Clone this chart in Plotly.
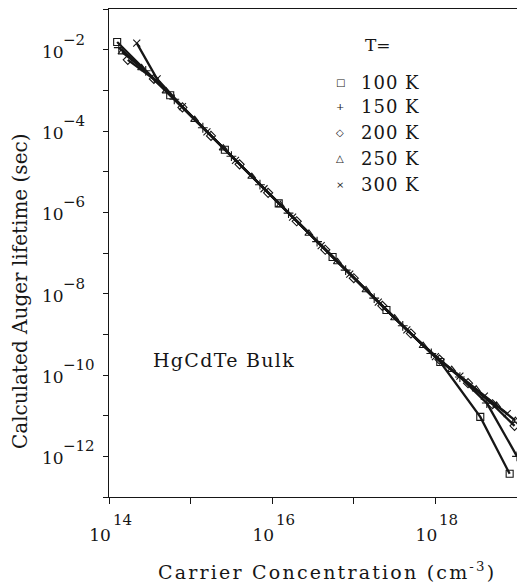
import plotly.graph_objects as go

# ---- data (log10 values) ----
# x: log10 carrier concentration (cm^-3), y: log10 Auger lifetime (s)
log_n_100K = [14.10, 14.75, 15.42, 16.08, 16.74, 17.40, 18.06, 18.55, 18.91]
log_tau_100K = [-1.81, -3.12, -4.46, -5.78, -7.10, -8.40, -9.68, -11.03, -12.43]

log_n_150K = [14.12, 14.45, 14.80, 15.15, 15.50, 15.85, 16.20, 16.55, 16.90, 17.25, 17.60, 17.95, 18.30, 18.63, 19.00]
log_tau_150K = [-1.95, -2.52, -3.22, -3.92, -4.62, -5.32, -6.02, -6.72, -7.42, -8.11, -8.79, -9.47, -10.05, -10.69, -12.00]

log_n_200K = [14.23, 14.55, 14.90, 15.25, 15.60, 15.95, 16.30, 16.65, 17.00, 17.35, 17.70, 18.05, 18.40, 18.70, 18.97]
log_tau_200K = [-2.25, -2.72, -3.42, -4.12, -4.82, -5.52, -6.22, -6.92, -7.62, -8.30, -8.98, -9.62, -10.20, -10.72, -11.25]

log_n_250K = [14.16, 14.40, 14.70, 15.05, 15.40, 15.75, 16.10, 16.45, 16.80, 17.15, 17.50, 17.85, 18.20, 18.50, 18.75, 18.98]
log_tau_250K = [-2.06, -2.45, -3.02, -3.72, -4.42, -5.12, -5.82, -6.52, -7.22, -7.91, -8.60, -9.28, -9.87, -10.35, -10.75, -11.12]

log_n_300K = [14.34, 14.59, 14.90, 15.20, 15.55, 15.90, 16.25, 16.60, 16.95, 17.30, 17.65, 18.00, 18.30, 18.60, 18.88]
log_tau_300K = [-1.84, -2.72, -3.40, -4.02, -4.72, -5.42, -6.12, -6.82, -7.52, -8.21, -8.89, -9.55, -10.03, -10.52, -10.95]

temps = ["100 K", "150 K", "200 K", "250 K", "300 K"]
symbols = ["square-open", "cross-thin-open", "diamond-open", "triangle-up-open", "x-thin-open"]
legend_glyphs = ["\u25a1", "+", "\u25c7", "\u25b3", "\u00d7"]

x_exps = [14, 15, 16, 17, 18, 19]
x_label_exps = [14, 16, 18]
y_exps = [-1, -2, -3, -4, -5, -6, -7, -8, -9, -10, -11, -12, -13]
y_label_exps = [-2, -4, -6, -8, -10, -12]

series = [
    (log_n_100K, log_tau_100K),
    (log_n_150K, log_tau_150K),
    (log_n_200K, log_tau_200K),
    (log_n_250K, log_tau_250K),
    (log_n_300K, log_tau_300K),
]

INK = "#161616"
FONT = "DejaVu Serif"
BASE_SIZE = 17   # "10"
EXP_SIZE = 15    # exponent


def spaced(txt, ls):
    return '<span style="letter-spacing:%spx">%s</span>' % (ls, txt)


fig = go.Figure()
for (ln, lt), sym, name in zip(series, symbols, temps):
    fig.add_trace(go.Scatter(
        x=[10 ** v for v in ln],
        y=[10 ** v for v in lt],
        mode="lines+markers",
        name=name,
        line=dict(color=INK, width=2.3),
        marker=dict(symbol=sym, size=7, color=INK, line=dict(color=INK, width=1.1)),
        showlegend=False,
    ))

W, H = 517, 587
L, R, T, B = 109, 0, 9, 90
pw, ph = W - L - R, H - T - B


def px_x(p):
    return (p - L) / pw


def px_y(p):
    return (H - B - p) / ph


def ann(x, y, text, size, **kw):
    d = dict(xref="paper", yref="paper", x=x, y=y, xanchor="center", yanchor="middle",
             showarrow=False, text=text, font=dict(family=FONT, size=size, color=INK))
    d.update(kw)
    return d


annotations = []
# y tick labels: "10" left aligned, exponent raised after it (log axis -> exponent units)
for e in y_label_exps:
    annotations.append(ann(px_x(40), e, "10", BASE_SIZE, yref="y", xanchor="left", yshift=-2))
    annotations.append(ann(px_x(61), e, "\u2212%d" % abs(e), EXP_SIZE, yref="y",
                           xanchor="left", yshift=10))
# x tick exponents (the "10" is the axis tick label)
for e in x_label_exps:
    annotations.append(ann(e, 0, str(e), EXP_SIZE, xref="x", xanchor="left", yanchor="top",
                           xshift=2, yshift=-12))
# axis titles
annotations.append(ann(px_x(20), px_y(292), "Calculated Auger lifetime (sec)", 20,
                       textangle=-90))
annotations.append(ann(px_x(327), px_y(571),
                       spaced('Carrier Concentration (cm<sup>-3</sup>)', 2.2), 19))
# legend block
annotations.append(ann(px_x(378), px_y(45), "T=", 17))
row_y = [82, 107, 133, 159, 185]
for g, t, yy in zip(legend_glyphs, temps, row_y):
    annotations.append(ann(px_x(340), px_y(yy), g, 10))
    annotations.append(ann(px_x(359), px_y(yy), spaced(t, 1.0), 18, xanchor="left"))
annotations.append(ann(px_x(224), px_y(360), spaced("HgCdTe Bulk", 1.3), 19))

fig.update_layout(
    width=W, height=H,
    margin=dict(l=L, r=R, t=T, b=B, autoexpand=False),
    paper_bgcolor="white", plot_bgcolor="white",
    annotations=annotations,
    xaxis=dict(
        type="log", range=[14, 19.0],
        tickvals=[10 ** e for e in x_exps],
        ticktext=["10" if e in x_label_exps else "" for e in x_exps],
        ticklabelshift=-9, ticklabelstandoff=16,
        tickfont=dict(family=FONT, size=BASE_SIZE, color=INK),
        ticks="outside", ticklen=6, tickwidth=1, tickcolor=INK,
        showline=True, linecolor=INK, linewidth=1.3, mirror=True,
        showgrid=False, zeroline=False,
    ),
    yaxis=dict(
        type="log", range=[-13, -1],
        tickvals=[10 ** e for e in y_exps], showticklabels=False,
        ticks="outside", ticklen=5, tickwidth=1, tickcolor=INK,
        showline=True, linecolor=INK, linewidth=1.3,
        showgrid=False, zeroline=False,
    ),
)

fig.write_html("out.html")
